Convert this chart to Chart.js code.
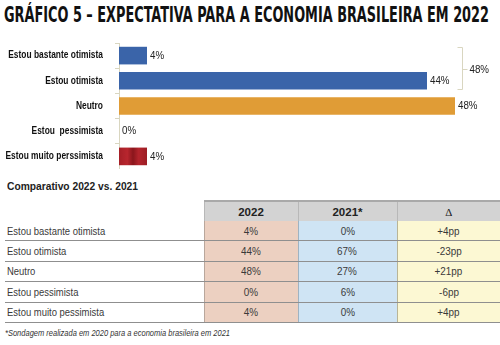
<!DOCTYPE html>
<html lang="pt-BR">
<head>
<meta charset="UTF-8">
<title>Expectativa para a economia brasileira em 2022</title>
<script src="https://cdn.jsdelivr.net/npm/chart.js"></script>
<style>
    body {
        margin: 0;
        width: 500px;
        height: 345px;
        background: #fff;
        overflow: hidden;
        position: relative;
        font-family: 'Liberation Sans', Arial, sans-serif;
        color: #222;
    }
    .fit {
        position: absolute;
        margin: 0;
        white-space: nowrap;
        transform-origin: 0 0;
    }
    h1 {
        left: 4px;
        top: 3px;
        font-family: 'DejaVu Sans Condensed', sans-serif;
        font-size: 21px;
        line-height: 24px;
        font-weight: bold;
        color: #111;
    }
    #chartBox {
        position: absolute;
        left: 0;
        top: 31px;
        width: 500px;
        height: 138px;
    }
    .subtitle {
        left: 7px;
        top: 180px;
        font-size: 11.5px;
        font-weight: bold;
        color: #222;
    }
    table {
        position: absolute;
        left: 5px;
        top: 200px;
        width: 495px;
        border-collapse: collapse;
        table-layout: fixed;
        font-size: 11px;
        color: #3a3a3a;
    }
    th, td {
        padding: 0;
        text-align: center;
        white-space: nowrap;
    }
    th {
        height: 19px;
        background: #d3d3d3;
        border-top: 2px solid #a9a9a9;
        font-weight: bold;
        font-size: 11.5px;
        color: #222;
    }
    th.blank {
        background: #fff;
        border-top: none;
    }
    th + th { border-left: 1px solid #b8b8b8; }
    th.delta { font-family: 'Liberation Serif', serif; font-weight: normal; font-size: 11px; }
    td { height: 19.4px; border-bottom: 1px solid #8f8f8f; }
    td span { display: inline-block; transform: scaleX(0.9); }
    td.label { text-align: left; padding-left: 2px; font-size: 10.5px; }
    td.label span { transform-origin: 0 50%; }
    td.c2022 { background: #ecd0c1; border-left: 1px solid #b9a79c; }
    td.c2021 { background: #cfe4f4; border-left: 1px solid #9fb3c2; }
    td.cdelta { background: #fcf8d3; border-left: 1px solid #b9b596; }
    .note {
        left: 5px;
        top: 327px;
        font-size: 9.5px;
        font-style: italic;
        color: #333;
    }
</style>
</head>
<body>

<h1 class="fit" id="title" data-w="485">GRÁFICO 5 – EXPECTATIVA PARA A ECONOMIA BRASILEIRA EM 2022</h1>

<div id="chartBox"><canvas id="expectativa"></canvas></div>

<div class="fit subtitle" data-w="131">Comparativo 2022 vs. 2021</div>
<table id="comparativo"></table>
<div class="fit note" data-w="225">*Sondagem realizada em 2020 para a economia brasileira em 2021</div>

<script>
// respostas 2022 (gráfico de barras)
const categories = ['Estou bastante otimista', 'Estou otimista', 'Neutro', 'Estou  pessimista', 'Estou muito perssimista'];
const shares2022 = [4, 44, 48, 0, 4];
// as duas primeiras barras somadas na chave à direita
const bracketIdx = [0, 1];

// tabela comparativa
const tableHeaders = ['2022', '2021*', 'Δ'];
const tableRows = ['Estou bastante otimista', 'Estou otimista', 'Neutro', 'Estou pessimista', 'Estou muito pessimista'];
const col2022 = [4, 44, 48, 0, 4];
const col2021 = [0, 67, 27, 6, 0];
const colDelta = [4, -23, 21, -6, 4];

const FONT = "'Liberation Sans', Arial, sans-serif";
const barColors = ['#3a64a9', '#3a64a9', '#e09c36', '#3a64a9', '#a8222a'];
const axisColor = '#d9d6c0';

// textos comprimidos até a largura indicada em data-w
document.querySelectorAll('.fit').forEach(el => {
    const w = el.getBoundingClientRect().width;
    el.style.transform = 'scaleX(' + (el.dataset.w / w) + ')';
});

// texto estreito no canvas (fonte normal comprimida na horizontal)
function narrowText(ctx, text, x, y, k, align) {
    ctx.save();
    ctx.translate(x, y);
    ctx.scale(k, 1);
    ctx.textAlign = align;
    ctx.fillText(text, 0, 0);
    ctx.restore();
}

// barra vermelha com brilho vertical
function barFill(c) {
    const i = c.dataIndex;
    if (i !== 4) return barColors[i];
    if (!c.chart.chartArea) return barColors[i];
    const xs = c.chart.scales.x;
    const x0 = xs.getPixelForValue(0), x1 = xs.getPixelForValue(shares2022[i]);
    const g = c.chart.ctx.createLinearGradient(x0, 0, x1, 0);
    g.addColorStop(0, '#a51f27');
    g.addColorStop(0.3, '#b8262e');
    g.addColorStop(0.5, '#8a161c');
    g.addColorStop(0.7, '#b3242c');
    g.addColorStop(1, '#9c1d24');
    return g;
}

// rótulos das categorias, à esquerda do eixo
const categoryLabels = {
    id: 'categoryLabels',
    afterDraw(chart) {
        const ctx = chart.ctx;
        const ys = chart.scales.y;
        ctx.save();
        ctx.font = 'bold 10.5px ' + FONT;
        ctx.fillStyle = '#111';
        ctx.textBaseline = 'middle';
        chart.data.labels.forEach((lab, i) => {
            narrowText(ctx, lab, ys.right - 16, ys.getPixelForTick(i), 0.8, 'right');
        });
        ctx.restore();
    }
};

const valueLabels = {
    id: 'valueLabels',
    afterDatasetsDraw(chart) {
        const ctx = chart.ctx;
        const meta = chart.getDatasetMeta(0);
        ctx.save();
        ctx.font = '11.5px ' + FONT;
        ctx.fillStyle = '#222';
        ctx.textBaseline = 'middle';
        meta.data.forEach((bar, i) => {
            narrowText(ctx, shares2022[i] + '%', bar.x + 3, bar.y, 0.85, 'left');
        });
        ctx.restore();
    }
};

// chave que soma as duas primeiras respostas
const bracket = {
    id: 'bracket',
    afterDatasetsDraw(chart) {
        const ctx = chart.ctx;
        const meta = chart.getDatasetMeta(0);
        const a = meta.data[bracketIdx[0]], b = meta.data[bracketIdx[1]];
        const total = bracketIdx.reduce((s, i) => s + shares2022[i], 0);
        const x = Math.round(chart.scales.x.getPixelForValue(total) + 7) + 0.5;
        const top = Math.round(a.y - a.height / 2) + 0.5;
        const bottom = Math.round(b.y + b.height / 2) - 0.5;
        const mid = Math.round((top + bottom) / 2) + 0.5;
        ctx.save();
        ctx.strokeStyle = axisColor;
        ctx.lineWidth = 1;
        ctx.beginPath();
        ctx.moveTo(x - 5, top); ctx.lineTo(x, top); ctx.lineTo(x, bottom); ctx.lineTo(x - 5, bottom);
        ctx.moveTo(x, mid); ctx.lineTo(x + 5, mid);
        ctx.stroke();
        ctx.font = '11.5px ' + FONT;
        ctx.fillStyle = '#222';
        ctx.textBaseline = 'middle';
        narrowText(ctx, total + '%', x + 7, mid, 0.85, 'left');
        ctx.restore();
    }
};

new Chart(document.getElementById('expectativa'), {
    type: 'bar',
    data: {
        labels: categories,
        datasets: [{
            data: shares2022,
            backgroundColor: barFill,
            barPercentage: 0.7,
            categoryPercentage: 1
        }]
    },
    options: {
        indexAxis: 'y',
        responsive: true,
        maintainAspectRatio: false,
        animation: false,
        layout: { padding: { top: 12, right: 31, bottom: 0, left: 0 } },
        plugins: { legend: { display: false }, tooltip: { enabled: false } },
        scales: {
            x: { display: false, min: 0, max: 50 },
            y: {
                offset: true,
                grid: { offset: true, drawOnChartArea: false, drawTicks: true, tickLength: 4, color: axisColor },
                border: { display: true, color: axisColor },
                ticks: { display: false },
                afterFit(s) { s.width = 119; }
            }
        }
    },
    plugins: [categoryLabels, valueLabels, bracket]
});

// monta a tabela a partir dos arrays
const table = document.getElementById('comparativo');
const cols = '<colgroup><col style="width:199px"><col style="width:94px"><col style="width:99px"><col style="width:103px"></colgroup>';
let html = cols + '<tr><th class="blank"></th>' +
    tableHeaders.map((h, i) => '<th' + (i === 2 ? ' class="delta"' : '') + '>' + h + '</th>').join('') + '</tr>';
tableRows.forEach((r, i) => {
    const d = colDelta[i];
    html += '<tr><td class="label"><span>' + r + '</span></td>' +
        '<td class="c2022"><span>' + col2022[i] + '%</span></td>' +
        '<td class="c2021"><span>' + col2021[i] + '%</span></td>' +
        '<td class="cdelta"><span>' + (d > 0 ? '+' : '') + d + 'pp</span></td></tr>';
});
table.innerHTML = html;
</script>
</body>
</html>
